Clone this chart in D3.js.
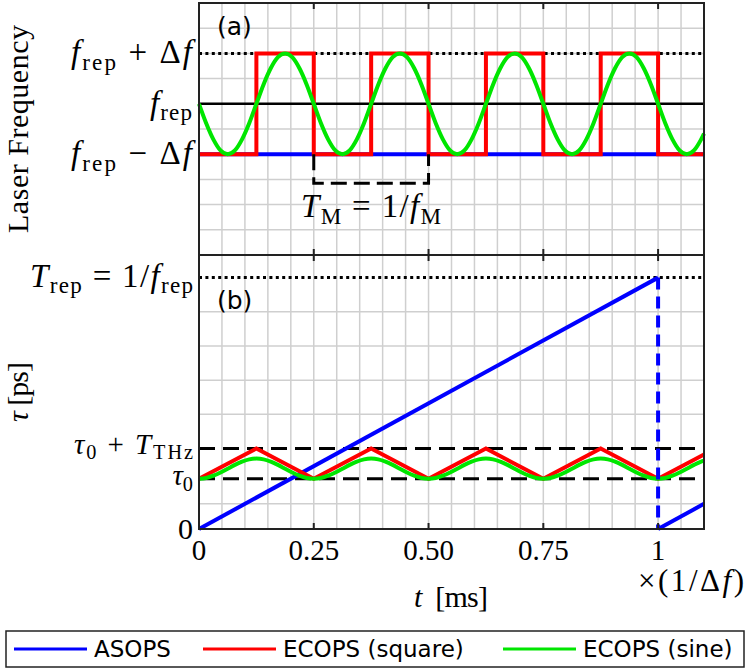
<!DOCTYPE html>
<html><head><meta charset="utf-8">
<script src="https://cdn.jsdelivr.net/npm/d3@7"></script>
<style>html,body{margin:0;padding:0;background:#fff}text{white-space:pre}</style>
</head><body><svg id="c" width="750" height="670"></svg>
<script>
// ---------------- data ----------------
const xTicks = [0, 0.25, 0.5, 0.75, 1];
const xTickLabels = ["0", "0.25", "0.50", "0.75", "1"];
const gridX = [0.05,0.1,0.15,0.2,0.25,0.3,0.35,0.4,0.45,0.5,0.55,0.6,0.65,0.7,0.75,0.8,0.85,0.9,0.95,1.0,1.05];
// panel (a): laser frequency (arb. levels)
const levelsA = {up: 8, rep: 6, down: 4};
const gridYA = [1,2,3,4,5,6,7,8,9];
const squareT = [0, 0.125, 0.25, 0.375, 0.5, 0.625, 0.75, 0.875, 1.0, 1.1];
const squareA = [4, 8, 4, 8, 4, 8, 4, 8, 4, 4];
const asopsA_T = [0, 1.1];
const asopsA = [4, 4];
const sineStep = 1/64;
const sineA = [6,5.23,4.59,4.15,4,4.15,4.59,5.23,6,6.77,7.41,7.85,8,7.85,7.41,6.77,
               6,5.23,4.59,4.15,4,4.15,4.59,5.23,6,6.77,7.41,7.85,8,7.85,7.41,6.77,
               6,5.23,4.59,4.15,4,4.15,4.59,5.23,6,6.77,7.41,7.85,8,7.85,7.41,6.77,
               6,5.23,4.59,4.15,4,4.15,4.59,5.23,6,6.77,7.41,7.85,8,7.85,7.41,6.77,
               6,5.23,4.59,4.15,4,4.15,4.59];
const sineAEnd = [1.1, 4.82];
const bracketT = [0.25, 0.25, 0.5, 0.5];
const bracketV = [4, 2.85, 2.85, 4];
// panel (b): delay tau [ps]
const tau0 = 0.2, tauTop = 0.32, tRep = 1.0;
const gridYB = [0.1, 0.456, 0.592, 0.728, 0.864];
const asopsT1 = [0, 1], asopsB1 = [0, 1];
const asopsT2 = [1, 1.1], asopsB2 = [0, 0.1];
const triT = [0, 0.125, 0.25, 0.375, 0.5, 0.625, 0.75, 0.875, 1.0, 1.1];
const triB = [0.2, 0.32, 0.2, 0.32, 0.2, 0.32, 0.2, 0.32, 0.2, 0.296];
const sineB = [0.2,0.203,0.212,0.225,0.24,0.255,0.268,0.277,0.28,0.277,0.268,0.255,0.24,0.225,0.212,0.203,
               0.2,0.203,0.212,0.225,0.24,0.255,0.268,0.277,0.28,0.277,0.268,0.255,0.24,0.225,0.212,0.203,
               0.2,0.203,0.212,0.225,0.24,0.255,0.268,0.277,0.28,0.277,0.268,0.255,0.24,0.225,0.212,0.203,
               0.2,0.203,0.212,0.225,0.24,0.255,0.268,0.277,0.28,0.277,0.268,0.255,0.24,0.225,0.212,0.203,
               0.2,0.203,0.212,0.225,0.24,0.255,0.268];
const sineBEnd = [1.1, 0.272];
const legendNames = ["ASOPS", "ECOPS (square)", "ECOPS (sine)"];
const colors = {asops: "#0000ff", square: "#ff0000", sine: "#00e600"};

// ---------------- layout ----------------
const svg = d3.select("#c");
const L = 199, R = 704, TA = 3, BA = 255, TB = 255, BB = 529;
const x = d3.scaleLinear().domain([0, 1.1]).range([L, R]);
const yA = d3.scaleLinear().domain([0, 10]).range([BA, TA]);
const yB = d3.scaleLinear().domain([0, 1.09]).range([BB, TB]);
const serif = "'Liberation Serif', 'Times New Roman', serif";
const sans = "'DejaVu Sans', sans-serif";

function addMath(sel, px, py, parts, fs, anchor, len, rot) {
  const t = sel.append("text").attr("x", px).attr("y", py)
    .attr("font-family", serif).attr("font-size", fs).attr("text-anchor", anchor || "start").attr("fill", "#000");
  if (rot) t.attr("transform", `rotate(${rot},${px},${py})`);
  if (len) t.attr("textLength", len).attr("lengthAdjust", "spacing");
  let shift = 0;
  parts.forEach(([s, type]) => {
    const ts = t.append("tspan").text(s);
    let target = 0;
    if (type.indexOf("sub") >= 0) { ts.attr("font-size", fs * 0.7); target = fs * 0.2; }
    if (type === "i" || type === "subi") ts.attr("font-style", "italic");
    const dy = target - shift;
    if (dy) ts.attr("dy", dy);
    shift = target;
  });
  return t;
}

function gridLines(g, y, top, bottom, gridY) {
  g.append("g").selectAll("line").data(gridX).join("line")
    .attr("x1", d => x(d)).attr("x2", d => x(d)).attr("y1", top).attr("y2", bottom)
    .attr("stroke", "#cfcfcf").attr("stroke-width", 1.5);
  g.append("g").selectAll("line").data(gridY).join("line")
    .attr("x1", L).attr("x2", R).attr("y1", d => y(d)).attr("y2", d => y(d))
    .attr("stroke", "#cfcfcf").attr("stroke-width", 1.5);
}
function frame(g, top, bottom) {
  g.append("rect").attr("x", L).attr("y", top).attr("width", R - L).attr("height", bottom - top)
    .attr("fill", "none").attr("stroke", "#222").attr("stroke-width", 2);
  g.append("g").selectAll("line").data(xTicks.slice(1)).join("line")
    .attr("x1", d => x(d)).attr("x2", d => x(d)).attr("y1", top).attr("y2", top + 6)
    .attr("stroke", "#222").attr("stroke-width", 2);
  g.append("g").selectAll("line").data(xTicks.slice(1)).join("line")
    .attr("x1", d => x(d)).attr("x2", d => x(d)).attr("y1", bottom).attr("y2", bottom - 6)
    .attr("stroke", "#222").attr("stroke-width", 2);
}
function hline(g, y, v, dash, w) {
  const l = g.append("line").attr("x1", L).attr("x2", R).attr("y1", y(v)).attr("y2", y(v))
    .attr("stroke", "#000").attr("stroke-width", w);
  if (dash) l.attr("stroke-dasharray", dash);
  return l;
}
const LW = 4;

// ---------------- panel (a) ----------------
const gA = svg.append("g");
gridLines(gA, yA, TA, BA, gridYA);
hline(gA, yA, levelsA.up, "3,3.4", 3);
hline(gA, yA, levelsA.rep, null, 2.5);
const lineA = d3.line().x(d => x(d[0])).y(d => yA(d[1]));
gA.append("path").datum(d3.zip(asopsA_T, asopsA)).attr("d", lineA)
  .attr("fill", "none").attr("stroke", colors.asops).attr("stroke-width", LW);
gA.append("path").datum(d3.zip(squareT, squareA)).attr("d", d3.line().x(d => x(d[0])).y(d => yA(d[1])).curve(d3.curveStepAfter))
  .attr("fill", "none").attr("stroke", colors.square).attr("stroke-width", LW);
const sineAPts = sineA.map((v, i) => [i * sineStep, v]).concat([sineAEnd]);
gA.append("path").datum(sineAPts).attr("d", d3.line().x(d => x(d[0])).y(d => yA(d[1])).curve(d3.curveMonotoneX))
  .attr("fill", "none").attr("stroke", colors.sine).attr("stroke-width", LW);
gA.append("path").datum(d3.zip(bracketT, bracketV)).attr("d", lineA)
  .attr("fill", "none").attr("stroke", "#000").attr("stroke-width", 3).attr("stroke-dasharray", "16,7");
frame(gA, TA, BA);
gA.append("text").attr("x", 217).attr("y", 35).attr("font-family", sans).attr("font-size", 25).text("(a)");
addMath(gA, 301, 217, [["T","i"],["M","sub"],[" = 1/","r"],["f","i"],["M","sub"]], 33, "start", 140);
// y labels (a)
addMath(gA, 192, yA(levelsA.up) + 10, [["f","i"],["rep","sub"],[" + Δ","r"],["f","i"]], 33, "end", 121);
addMath(gA, 192, yA(levelsA.rep) + 10, [["f","i"],["rep","sub"]], 33, "end", 42);
addMath(gA, 192, yA(levelsA.down) + 10, [["f","i"],["rep","sub"],[" − Δ","r"],["f","i"]], 33, "end", 121);
addMath(gA, 28, (TA + BA) / 2, [["Laser Frequency","r"]], 30, "middle", 208, -90);

// ---------------- panel (b) ----------------
const gB = svg.append("g");
gridLines(gB, yB, TB, BB, gridYB);
hline(gB, yB, tRep, "3,3.4", 3);
hline(gB, yB, tauTop, "16,8", 3);
hline(gB, yB, tau0, "16,8", 3);
const lineB = d3.line().x(d => x(d[0])).y(d => yB(d[1]));
gB.append("path").datum(d3.zip(asopsT1, asopsB1)).attr("d", lineB)
  .attr("fill", "none").attr("stroke", colors.asops).attr("stroke-width", LW);
gB.append("path").datum(d3.zip(asopsT2, asopsB2)).attr("d", lineB)
  .attr("fill", "none").attr("stroke", colors.asops).attr("stroke-width", LW);
gB.append("path").datum(d3.zip(triT, triB)).attr("d", lineB)
  .attr("fill", "none").attr("stroke", colors.square).attr("stroke-width", LW);
const sineBPts = sineB.map((v, i) => [i * sineStep, v]).concat([sineBEnd]);
gB.append("path").datum(sineBPts).attr("d", d3.line().x(d => x(d[0])).y(d => yB(d[1])).curve(d3.curveMonotoneX))
  .attr("fill", "none").attr("stroke", colors.sine).attr("stroke-width", LW);
gB.append("line").attr("x1", x(1)).attr("x2", x(1)).attr("y1", yB(tRep)).attr("y2", yB(0))
  .attr("stroke", colors.asops).attr("stroke-width", LW).attr("stroke-dasharray", "12,7");
frame(gB, TB, BB);
gB.append("text").attr("x", 217).attr("y", 309).attr("font-family", sans).attr("font-size", 25).text("(b)");
// y labels (b)
addMath(gB, 193, yB(tRep) + 9, [["T","i"],["rep","sub"],[" = 1/","r"],["f","i"],["rep","sub"]], 33, "end", 163);
addMath(gB, 193, yB(tauTop) + 5, [["τ","i"],["0","sub"],[" + ","r"],["T","i"],["THz","sub"]], 29, "end", 119);
addMath(gB, 193, yB(tau0) + 6, [["τ","i"],["0","sub"]], 29, "end");
addMath(gB, 193, yB(0) + 10, [["0","r"]], 30, "end");
addMath(gB, 28, (TB + BB) / 2, [["τ","i"],[" [ps]","r"]], 30, "middle", 60, -90);

// x tick labels
svg.append("g").selectAll("text").data(xTicks).join("text")
  .attr("x", d => x(d)).attr("y", 560).attr("text-anchor", "middle")
  .attr("font-family", serif).attr("font-size", 29).text((d, i) => xTickLabels[i]);
addMath(svg, 638, 591, [["×(1/Δ","r"],["f","i"],[")","r"]], 31, "start", 106);
addMath(svg, 451, 607, [["t","i"],["  [ms]","r"]], 30, "middle", 74);

// ---------------- legend ----------------
const lg = svg.append("g");
lg.append("rect").attr("x", 6).attr("y", 631).attr("width", 738).attr("height", 36)
  .attr("fill", "#fff").attr("stroke", "#222").attr("stroke-width", 1.5);
const legendX = [14, 203, 503];
const legendCol = [colors.asops, colors.square, colors.sine];
legendNames.forEach((n, i) => {
  lg.append("line").attr("x1", legendX[i]).attr("x2", legendX[i] + 73).attr("y1", 649).attr("y2", 649)
    .attr("stroke", legendCol[i]).attr("stroke-width", 3);
  lg.append("text").attr("x", legendX[i] + 80).attr("y", 657).attr("font-family", sans)
    .attr("font-size", 23).text(n);
});
</script></body></html>
